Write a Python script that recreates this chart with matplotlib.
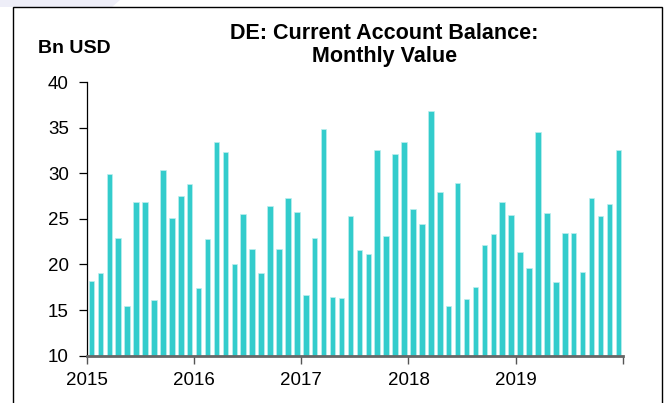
import numpy as np
import matplotlib.pyplot as plt
from matplotlib.patches import Rectangle, Polygon

plt.rcParams['font.family'] = ['Liberation Sans', 'DejaVu Sans']

# monthly values, Jan 2015 .. Dec 2019 (Bn USD)
values = [
    18.2, 19.1, 29.9, 22.9, 15.4, 26.9, 26.9, 16.1, 30.4, 25.1, 27.5, 28.8,
    17.4, 22.8, 33.4, 32.3, 20.1, 25.5, 21.7, 19.1, 26.4, 21.7, 27.3, 25.7,
    16.7, 22.9, 34.9, 16.4, 16.3, 25.3, 21.6, 21.2, 32.5, 23.1, 32.1, 33.4,
    26.1, 24.4, 36.8, 28.0, 15.4, 28.9, 16.2, 17.5, 22.1, 23.3, 26.8, 25.4,
    21.4, 19.6, 34.5, 25.6, 18.1, 23.5, 23.5, 19.2, 27.3, 25.3, 26.6, 32.6,
]
years = ['2015', '2016', '2017', '2018', '2019']
y_ticks = [10, 15, 20, 25, 30, 35, 40]

fig = plt.figure(figsize=(6.69, 4.03), dpi=100)
ax = fig.add_axes([0.130, 0.1174, 0.801, 0.679])

x = np.arange(len(values)) + 0.5
ax.bar(x, np.array(values) - 10, bottom=10, width=0.62,
       color='#33CCCC', edgecolor='#bdeeee', linewidth=0.5)

ax.set_xlim(0, len(values))
ax.set_ylim(10, 40)
ax.set_yticks(y_ticks)
ax.set_xticks(np.arange(0, len(values) + 1, 12))
ax.set_xticklabels(years + [''])

for s in ['top', 'right']:
    ax.spines[s].set_visible(False)
ax.spines['left'].set_color('black')
ax.spines['left'].set_linewidth(0.9)
ax.spines['bottom'].set_color('#666666')
ax.spines['bottom'].set_linewidth(2)

ax.tick_params(axis='y', length=6, width=0.9, color='black', labelsize=13.5, pad=7)
ax.tick_params(axis='x', length=6, width=1, color='#555555', labelsize=13.5, pad=6)

fig.text(0.575, 0.918, 'DE: Current Account Balance:', ha='center', va='center',
         fontsize=15.5, fontweight='bold')
fig.text(0.575, 0.861, 'Monthly Value', ha='center', va='center',
         fontsize=15.5, fontweight='bold')
fig.text(0.111, 0.880, 'Bn USD', ha='center', va='center',
         fontsize=14, fontweight='bold')

# outer frame and faint watermark
fig.patches.append(Rectangle((13 / 669, -0.1), (662 - 13) / 669, 1.1 - 7 / 403,
                             transform=fig.transFigure, fill=False,
                             edgecolor='black', linewidth=1))
fig.patches.append(Polygon([(0, 1), (120 / 669, 1), (112 / 669, 1 - 7 / 403), (0, 1 - 7 / 403)],
                           closed=True, transform=fig.transFigure,
                           facecolor='#eeeef8', edgecolor='none', zorder=-1))

fig.savefig('out.png', dpi=100)
